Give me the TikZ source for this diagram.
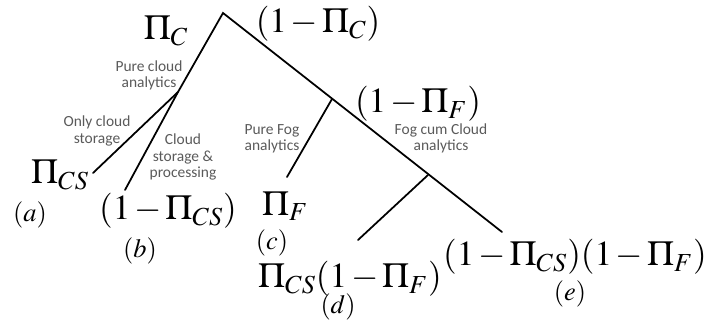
\documentclass[tikz,border=0pt]{standalone}
\usepackage{fontspec}
\usepackage{mathptmx}
\newfontfamily\notefont{Carlito}
\definecolor{notegray}{HTML}{5A5A5A}
\usepackage{tikz}
\usetikzlibrary{calc}
\newcommand{\tightmath}{\medmuskip=2mu\relax}
\tikzset{
  branch/.style = {line width=1pt,line cap=round},
  prob/.style   = {inner sep=0pt,font=\fontsize{20}{22}\selectfont\tightmath},
  case/.style   = {inner sep=0pt,font=\fontsize{15}{17}\selectfont},
  note/.style   = {inner sep=0pt,align=center,text=notegray,
                   font=\notefont\fontsize{8.8}{9.2}\selectfont},
}

\begin{document}
\begin{tikzpicture}[x=0.02cm,y=-0.02cm]
  \useasboundingbox (0,0) rectangle (706,320);

  % Tree points
  \coordinate (root) at (223,13);
  \coordinate (cl)   at (178,92);
  \coordinate (aend) at (93,173);
  \coordinate (bend) at (125,190);
  \coordinate (fg)   at (332,99);
  \coordinate (cend) at (287,177);
  \coordinate (fc)   at (428,175);
  \coordinate (dend) at (358,240);
  \coordinate (eend) at (502,232);

  % Branches
  \draw[branch] (eend) -- (root) -- (cl) -- (bend);
  \draw[branch] (cl) -- (aend);
  \draw[branch] (fg) -- (cend);
  \draw[branch] (fc) -- (dend);

  % Probabilities
  \node[prob] (pc)   at (166,31)  {$\Pi_C$};
  \node[prob] (npc)  at (318,24)  {$(1-\Pi_C)$};
  \node[prob] (npf)  at (418,104) {$(1-\Pi_F)$};
  \node[prob] (pa)   at (60,175)  {$\Pi_{CS}$};
  \node[prob] (pb)   at (168,211) {$(1-\Pi_{CS})$};
  \node[prob] (pcc)  at (285,206) {$\Pi_F$};
  \node[prob] (pd)   at (350,279) {$\Pi_{CS}(1-\Pi_F)$};
  \node[prob] (pe)   at (575,257) {$(1-\Pi_{CS})(1-\Pi_F)$};

  % Case tags
  \node[case] (ta) at (30,215)  {$(a)$};
  \node[case] (tb) at (140,251) {$(b)$};
  \node[case] (tc) at (272,243) {$(c)$};
  \node[case] (td) at (338,307) {$(d)$};
  \node[case] (te) at (570,294) {$(e)$};

  % Branch notes
  \node[note] (n1) at (149,75)  {Pure cloud\\ analytics};
  \node[note] (n2) at (97,131)  {Only cloud\\ storage};
  \node[note] (n3) at (183,157) {Cloud\\ storage \&\\ processing};
  \node[note] (n4) at (272,139) {Pure Fog\\ analytics};
  \node[note] (n5) at (441,138) {Fog cum Cloud\\ analytics};
\end{tikzpicture}
\end{document}
